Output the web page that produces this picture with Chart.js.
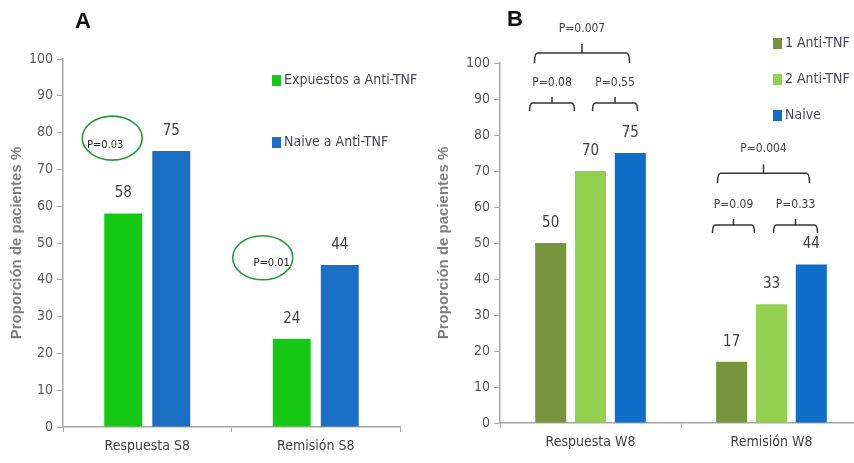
<!DOCTYPE html>
<html>
<head>
<meta charset="utf-8">
<script src="https://cdn.jsdelivr.net/npm/chart.js@4"></script>
<style>
  html, body { margin: 0; padding: 0; background: #fff; overflow: hidden; }
  #wrap { position: relative; width: 854px; height: 463px; overflow: hidden; }
  .panel { position: absolute; top: 0; height: 463px; }
  #pa { left: 0; width: 427px; }
  #pb { left: 427px; width: 440px; }
</style>
</head>
<body>
<div id="wrap">
  <div class="panel" id="pa"><canvas id="chartA"></canvas></div>
  <div class="panel" id="pb"><canvas id="chartB"></canvas></div>
</div>
<script>
// panel A data
const catsA = ["Respuesta S8", "Remisión S8"];
const expuestos = [58, 24];
const naiveA = [75, 44];
const labelsA = ["Expuestos a Anti-TNF", "Naive a Anti-TNF"];
const pvalsA = ["P=0.03", "P=0.01"];
const pvalsAy = [78.5, 46]; // where the circled p-values sit, in %

// panel B data
const catsB = ["Respuesta W8", "Remisión W8"];
const antiTnf1 = [50, 17];
const antiTnf2 = [70, 33];
const naiveB = [75, 44];
const labelsB = ["1 Anti-TNF", "2 Anti-TNF", "Naive"];
// brackets: [category, text, level in %, left offset, right offset]
const bracketsB = [
  [0, "P=0.007", 102.8, -56, 39],
  [0, "P=0.08", 88.9, -61, -16],
  [0, "P=0.55", 88.9, 2, 47],
  [1, "P=0.004", 69.4, -54, 38],
  [1, "P=0.09", 55, -59, -17],
  [1, "P=0.33", 55, 2, 46]
];
const yTicks = [0, 10, 20, 30, 40, 50, 60, 70, 80, 90, 100];

const narrow = "'Liberation Sans Narrow', 'DejaVu Sans Condensed', sans-serif";
const grey = "#595959";

// value labels over the bars
const barValues = {
  id: "barValues",
  afterDatasetsDraw(chart) {
    const ctx = chart.ctx;
    ctx.save();
    ctx.font = "15px " + narrow;
    ctx.fillStyle = "#404040";
    ctx.textAlign = "center";
    ctx.textBaseline = "middle";
    chart.data.datasets.forEach((ds, i) => {
      chart.getDatasetMeta(i).data.forEach((bar, j) => {
        ctx.fillText(ds.data[j], bar.x, bar.y - 20);
      });
    });
    ctx.restore();
  }
};

function makeLegend(x0, y0, step, font) {
  return {
    id: "ownLegend",
    afterDraw(chart) {
      const ctx = chart.ctx;
      ctx.save();
      ctx.font = font;
      ctx.textBaseline = "middle";
      chart.data.datasets.forEach((ds, i) => {
        const y = y0 + i * step;
        ctx.fillStyle = ds.backgroundColor;
        ctx.fillRect(x0, y - 5, 9, 11);
        ctx.fillStyle = "#4a4454";
        ctx.fillText(ds.label, x0 + 12, y);
      });
      ctx.restore();
    }
  };
}

function panelTitle(text, x, y) {
  return {
    id: "panelTitle",
    afterDraw(chart) {
      const ctx = chart.ctx;
      ctx.save();
      ctx.font = "bold 22px 'Liberation Sans', sans-serif";
      ctx.fillStyle = "#111";
      ctx.textAlign = "center";
      ctx.textBaseline = "middle";
      ctx.fillText(text, x, y);
      ctx.restore();
    }
  };
}

const circleOffsets = [[-35, -7, 7], [-53, 9, 5]]; // ellipse dx, text dx, text dy

const circlesA = {
  id: "circlesA",
  afterDraw(chart) {
    const ctx = chart.ctx;
    const xs = chart.scales.x, ys = chart.scales.y;
    ctx.save();
    pvalsA.forEach((t, i) => {
      const [dx, tx, ty] = circleOffsets[i];
      const cx = xs.getPixelForValue(i) + dx;
      const cy = ys.getPixelForValue(pvalsAy[i]);
      ctx.strokeStyle = "#1f9a3c";
      ctx.lineWidth = 1.6;
      ctx.beginPath();
      ctx.ellipse(cx, cy, 30, 22, 0, 0, Math.PI * 2);
      ctx.stroke();
      ctx.font = "11px " + narrow;
      ctx.fillStyle = "#222";
      ctx.textAlign = "center";
      ctx.textBaseline = "middle";
      ctx.fillText(t, cx + tx, cy + ty);
    });
    ctx.restore();
  }
};

const bracketPlugin = {
  id: "brackets",
  afterDraw(chart) {
    const ctx = chart.ctx;
    const xs = chart.scales.x, ys = chart.scales.y;
    ctx.save();
    ctx.strokeStyle = "#333";
    ctx.lineWidth = 1.5;
    bracketsB.forEach(([cat, text, level, l, r]) => {
      const c = xs.getPixelForValue(cat);
      const y = ys.getPixelForValue(level);
      const x1 = c + l, x2 = c + r, xm = (x1 + x2) / 2;
      const big = r - l > 70;
      const down = big ? 10 : 8, up = big ? 9 : 6;
      ctx.beginPath();
      ctx.moveTo(x1, y + down);
      ctx.quadraticCurveTo(x1, y, x1 + 3, y);
      ctx.lineTo(x2 - 3, y);
      ctx.quadraticCurveTo(x2, y, x2, y + down);
      ctx.moveTo(xm, y);
      ctx.lineTo(xm, y - up);
      ctx.stroke();
      ctx.font = "12px " + narrow;
      ctx.fillStyle = "#404040";
      ctx.textAlign = "center";
      ctx.textBaseline = "middle";
      ctx.fillText(text, xm, y - (big ? 24 : 20));
    });
    ctx.restore();
  }
};

function axes(cats, yWidth, xHeight) {
  return {
    x: {
      type: "category",
      labels: cats,
      offset: true,
      grid: { offset: true, drawOnChartArea: false, drawTicks: true, tickLength: 5, color: "#a6a6a6" },
      border: { color: "#a6a6a6", width: 1.5 },
      ticks: { color: "#404040", font: { family: narrow, size: 14 }, padding: 6 },
      afterFit(s) { s.height = xHeight; }
    },
    y: {
      min: 0, max: 100,
      afterBuildTicks(s) { s.ticks = yTicks.map(v => ({ value: v })); },
      grid: { drawOnChartArea: false, tickLength: 6, color: "#a6a6a6" },
      border: { color: "#a6a6a6", width: 1.5 },
      ticks: { color: grey, font: { family: narrow, size: 14 }, padding: 4 },
      title: {
        display: true, text: "Proporción de pacientes %", color: "#7f7f7f",
        font: { family: "'Liberation Sans', sans-serif", size: 15, weight: "bold" },
        padding: { top: 8, bottom: 0 }
      },
      afterFit(s) { s.width = yWidth; }
    }
  };
}

new Chart(document.getElementById("chartA"), {
  type: "bar",
  data: {
    labels: catsA,
    datasets: [
      { label: labelsA[0], data: expuestos, backgroundColor: "#14c814" },
      { label: labelsA[1], data: naiveA, backgroundColor: "#1a6ec4" }
    ]
  },
  options: {
    responsive: true,
    maintainAspectRatio: false,
    animation: false,
    categoryPercentage: 0.57,
    barPercentage: 0.79,
    layout: { padding: { left: 0, right: 27, top: 59, bottom: 0 } },
    plugins: { legend: { display: false }, tooltip: { enabled: false } },
    scales: axes(catsA, 63, 36)
  },
  plugins: [barValues, makeLegend(272, 80, 62, "14px " + narrow), panelTitle("A", 83, 22), circlesA]
});

new Chart(document.getElementById("chartB"), {
  type: "bar",
  data: {
    labels: catsB,
    datasets: [
      { label: labelsB[0], data: antiTnf1, backgroundColor: "#77933c" },
      { label: labelsB[1], data: antiTnf2, backgroundColor: "#92d050" },
      { label: labelsB[2], data: naiveB, backgroundColor: "#0f6fc6" }
    ]
  },
  options: {
    responsive: true,
    maintainAspectRatio: false,
    animation: false,
    categoryPercentage: 0.66,
    barPercentage: 0.78,
    layout: { padding: { left: 0, right: 5, top: 63, bottom: 0 } },
    plugins: { legend: { display: false }, tooltip: { enabled: false } },
    scales: axes(catsB, 73, 40)
  },
  plugins: [barValues, makeLegend(346, 43, 36, "14px " + narrow), panelTitle("B", 88, 20), bracketPlugin]
});
</script>
</body>
</html>
